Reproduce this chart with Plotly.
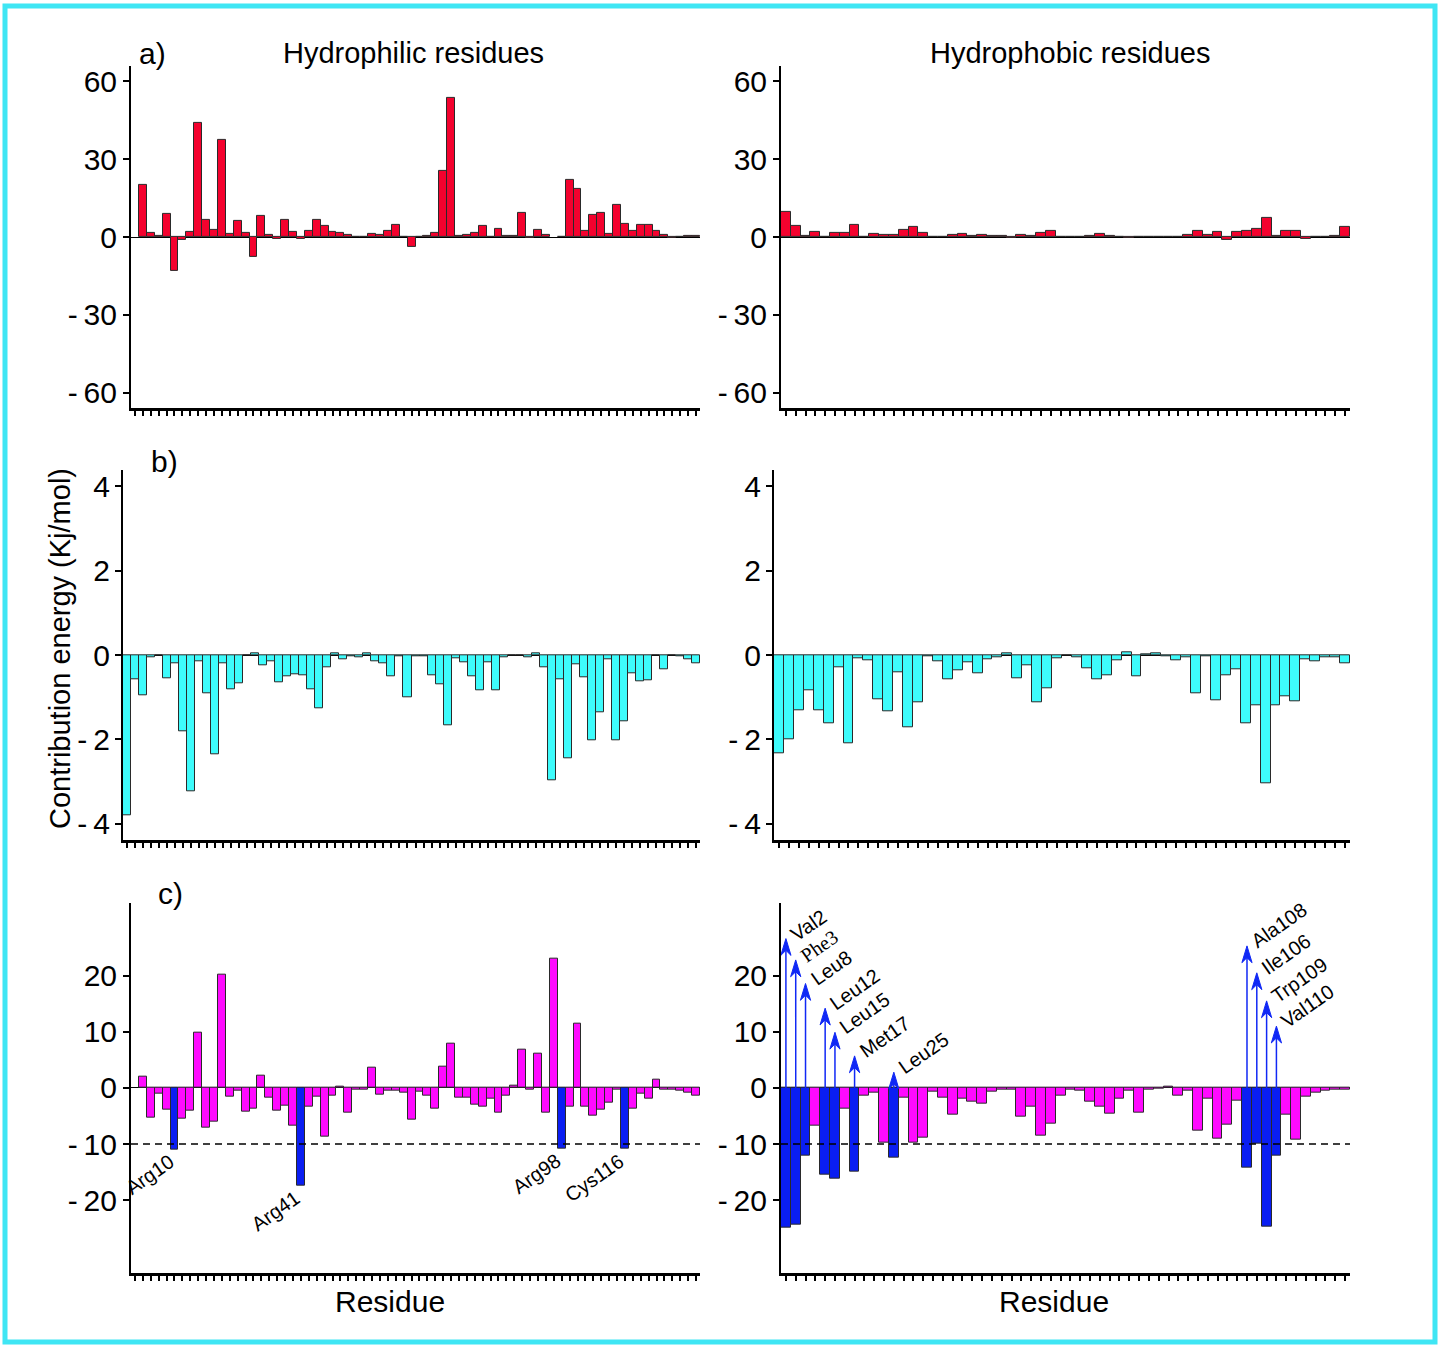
import plotly.graph_objects as go

# ---------------- data ----------------
# Panel a: total contribution, hydrophilic residues (position 0 and 53 have no value)
philic_total = [None, 20.2, 1.7, 0.3, 9.0, -13.2, -0.9, 2.0, 44.0, 6.8, 2.8,
                37.3, 1.4, 6.4, 1.5, -7.5, 8.1, 1.0, -0.6, 6.6, 1.9,
                -0.5, 2.3, 6.6, 4.4, 2.2, 1.8, 1.0, 0.1, 0.2, 1.3,
                0.8, 2.3, 4.6, 0.2, -3.6, 0.1, 0.6, 1.8, 25.6, 53.6,
                0.3, 0.8, 1.8, 4.5, 0.1, 3.1, 0.3, 0.3, 9.3, -0.4,
                2.7, 0.9, None, 0.2, 22.1, 18.6, 2.6, 8.7, 9.3, 1.2,
                12.6, 5.0, 2.6, 4.8, 4.8, 2.6, 1.0, -0.2, 0.1, 0.5, 0.5]
# Panel a: total contribution, hydrophobic residues
phobic_total = [9.6, 4.4, 0.6, 2.2, 0.1, 1.5, 1.5, 4.6, 0.1, 1.2,
                0.8, 1.0, 2.7, 3.9, 1.8, 0.1, 0.1, 0.8, 1.3, 0.5,
                0.8, 0.5, 0.5, -0.3, 1.0, 0.5, 1.7, 2.6, 0.1, 0.1,
                0.2, 0.3, 1.4, 0.3, 0.1, -0.1, 0.1, 0.1, 0.1, 0.2,
                0.2, 0.7, 2.4, 0.7, 1.9, -1.0, 2.0, 2.3, 3.0, 7.6,
                0.6, 2.4, 2.4, -0.5, 0.2, 0.2, 0.5, 4.0]
# Panel b
philic_b = [-3.81, -0.57, -0.95, -0.05, 0.0, -0.55, -0.2, -1.81, -3.22, -0.15,
            -0.9, -2.36, -0.2, -0.82, -0.68, -0.01, 0.04, -0.24, -0.14, -0.64,
            -0.51, -0.45, -0.47, -0.82, -1.27, -0.28, 0.03, -0.09, -0.02, -0.06,
            0.03, -0.15, -0.2, -0.5, -0.02, -1.0, -0.02, -0.02, -0.49, -0.69,
            -1.67, -0.08, -0.17, -0.5, -0.84, -0.18, -0.84, -0.06, -0.01, 0.0,
            -0.05, 0.05, -0.29, -2.97, -0.57, -2.46, -0.21, -0.53, -2.02, -1.36,
            -0.11, -2.02, -1.57, -0.43, -0.63, -0.6, -0.01, -0.34, -0.01, -0.04,
            -0.11, -0.19]
phobic_b = [-2.32, -2.0, -1.3, -0.83, -1.31, -1.61, -0.28, -2.1, -0.08, -0.12,
            -1.06, -1.33, -0.4, -1.71, -1.13, -0.02, -0.16, -0.57, -0.37, -0.17,
            -0.44, -0.09, -0.05, 0.03, -0.54, -0.24, -1.12, -0.79, -0.08, -0.01,
            -0.06, -0.31, -0.57, -0.49, -0.13, 0.06, -0.5, 0.02, 0.04, -0.03,
            -0.13, -0.06, -0.91, -0.02, -1.08, -0.49, -0.34, -1.62, -1.2, -3.03,
            -1.2, -0.99, -1.09, -0.11, -0.14, -0.06, -0.06, -0.2]
# Panel c
philic_c = [None, 2.0, -5.3, -0.95, -3.8, -11.0, -5.4, -4.0, 9.8, -7.1, -6.0,
            20.2, -1.5, -0.5, -4.3, -3.7, 2.1, -1.7, -4.1, -3.2, -6.7,
            -17.5, -3.4, -1.5, -8.6, -1.4, 0.2, -4.5, -0.35, -0.4, 3.6,
            -1.2, -0.5, -0.5, -0.8, -5.7, -0.7, -1.3, -3.7, 3.8, 7.9,
            -1.8, -1.7, -3.0, -3.3, -1.9, -4.5, -1.4, 0.4, 6.9, -0.4,
            6.1, -4.4, 23.0, -10.9, -3.4, 11.4, -3.4, -4.9, -3.8, -2.6,
            -0.4, -10.9, -3.7, -1.1, -1.9, 1.4, -0.4, -0.4, -0.5, -0.8, -1.4]
phobic_c = [-24.9, -24.4, -12.1, -6.8, -15.4, -16.1, -3.7, -15.0, -1.3, -0.8,
            -9.8, -12.5, -1.7, -9.8, -8.8, -0.65, -1.7, -4.7, -1.9, -2.4,
            -2.8, -0.6, -0.25, -0.35, -5.2, -3.4, -8.5, -6.3, -1.4, -0.3,
            -0.5, -2.4, -3.3, -4.6, -1.9, -0.5, -4.4, -0.4, -0.2, 0.3,
            -1.4, -0.5, -7.6, -2.0, -9.1, -6.5, -2.2, -14.2, -10.0, -24.8,
            -12.1, -4.7, -9.3, -1.5, -0.9, -0.5, -0.4, -0.25]

# Key residues (position in the bar series -> name)
philic_key_pos = [5, 21, 54, 62]
philic_key_name = ["Arg10", "Arg41", "Arg98", "Cys116"]
phobic_key_pos = [1, 2, 3, 5, 6, 8, 12, 48, 49, 50, 51]
phobic_key_name = ["Val2", "Phe3", "Leu8", "Leu12", "Leu15", "Met17", "Leu25",
                   "Ala108", "Ile106", "Trp109", "Val110"]
phobic_arrow_tip = [26.6, 22.8, 18.6, 14.2, 9.9, 5.7, 2.8, 25.3, 20.5, 15.5, 11.0]
cutoff = -10

# ---------------- styling ----------------
W, H = 1440, 1348
RED, CYAN, MAGENTA, BLUE = "#F4022E", "#3EFBFB", "#FF0AFF", "#0A1EF2"
ARROW_BLUE = "#1028F5"
EDGE = "#2a2a2a"
TICK_FONT = dict(family="Liberation Sans, Arial, sans-serif", size=30, color="black")
TEXT_FONT = "Liberation Sans, Arial, sans-serif"
NEG = "-\u2009"   # minus sign followed by a thin space in tick labels


def px_x(p):
    return p / W


def px_y(p):
    return 1 - p / H


fig = go.Figure()


def add_bars(values, positions, axis, colors):
    fig.add_trace(go.Bar(
        x=positions, y=values, width=[1] * len(values),
        marker=dict(color=colors, line=dict(color=EDGE, width=1)),
        xaxis="x" + axis, yaxis="y" + axis, showlegend=False, hoverinfo="x+y",
    ))


philic_pos_a = list(range(len(philic_total)))
phobic_pos = list(range(1, len(phobic_total) + 1))
philic_pos_b = list(range(1, len(philic_b) + 1))
philic_pos_c = list(range(len(philic_c)))

add_bars(philic_total, philic_pos_a, "", RED)
add_bars(phobic_total, phobic_pos, "2", RED)
add_bars(philic_b, philic_pos_b, "3", CYAN)
add_bars(phobic_b, phobic_pos, "4", CYAN)
add_bars(philic_c, philic_pos_c, "5",
         [BLUE if i in philic_key_pos else MAGENTA for i in philic_pos_c])
add_bars(phobic_c, phobic_pos, "6",
         [BLUE if i in phobic_key_pos else MAGENTA for i in phobic_pos])

row_dom = {
    "a": [px_y(408), px_y(65)],
    "b": [px_y(840), px_y(470)],
    "c": [px_y(1274), px_y(903)],
}


def x_axis(dom, rng, ticks, anchor):
    return dict(domain=dom, range=rng, anchor=anchor, showline=True, linecolor="black",
                linewidth=2.5, ticks="outside", ticklen=5, tickwidth=1.6, tickcolor="black",
                tickvals=ticks, showticklabels=False, showgrid=False, zeroline=False,
                fixedrange=True)


def y_axis(dom, rng, vals, anchor, standoff):
    texts = [(NEG + str(abs(v))) if v < 0 else str(v) for v in vals]
    return dict(domain=dom, range=rng, anchor=anchor, showline=True, linecolor="black",
                linewidth=2, ticks="outside", ticklen=6, tickwidth=1.6, tickcolor="black",
                tickvals=vals, ticktext=texts, tickfont=TICK_FONT, showgrid=False,
                zeroline=True, zerolinecolor="black", zerolinewidth=1.2,
                ticklabelstandoff=standoff, fixedrange=True)


left_a = [px_x(131), px_x(700)]
right_a = [px_x(781), px_x(1350)]
left_b = [px_x(123), px_x(700)]
right_b = [px_x(774), px_x(1350)]

ya_vals = [-60, -30, 0, 30, 60]
yb_vals = [-4, -2, 0, 2, 4]
yc_vals = [-20, -10, 0, 10, 20]

fig.update_layout(
    xaxis=x_axis(left_a, [-0.5, 71.5], philic_pos_a, "y"),
    yaxis=y_axis(row_dom["a"], [-66, 66], ya_vals, "x", 0),
    xaxis2=x_axis(right_a, [0.5, 58.5], phobic_pos, "y2"),
    yaxis2=y_axis(row_dom["a"], [-66, 66], ya_vals, "x2", 0),
    xaxis3=x_axis(left_b, [0.5, 72.5], philic_pos_b, "y3"),
    yaxis3=y_axis(row_dom["b"], [-4.38, 4.38], yb_vals, "x3", -1),
    xaxis4=x_axis(right_b, [0.5, 58.5], phobic_pos, "y4"),
    yaxis4=y_axis(row_dom["b"], [-4.38, 4.38], yb_vals, "x4", -1),
    xaxis5=x_axis(left_a, [-0.5, 71.5], philic_pos_c, "y5"),
    yaxis5=y_axis(row_dom["c"], [-33, 33], yc_vals, "x5", 0),
    xaxis6=x_axis(right_a, [0.5, 58.5], phobic_pos, "y6"),
    yaxis6=y_axis(row_dom["c"], [-33, 33], yc_vals, "x6", 0),
)

annotations = []

# Free text: titles, panel letters, axis titles
def paper_text(txt, cx, cy, size=30, angle=0):
    annotations.append(dict(text=txt, x=px_x(cx), y=px_y(cy), xref="paper", yref="paper",
                            showarrow=False, xanchor="center", yanchor="middle",
                            textangle=angle, font=dict(family=TEXT_FONT, size=size, color="black")))


paper_text("Hydrophilic residues", 413, 52, size=29)
paper_text("Hydrophobic residues", 1070, 52, size=29)
paper_text("a)", 152, 53)
paper_text("b)", 164, 461)
paper_text("c)", 170, 894)
paper_text("Contribution energy (Kj/mol)", 60, 649, size=29, angle=-90)
paper_text("Residue", 390, 1302)
paper_text("Residue", 1054, 1302)

LABEL_SIZE = 20

# Labels under the key hydrophilic residues
for pos, name in zip(philic_key_pos, philic_key_name):
    annotations.append(dict(text=name, x=pos + 0.3, y=philic_c[pos], xref="x5", yref="y5",
                            showarrow=False, xanchor="right", yanchor="top",
                            xshift=3, yshift=2, textangle=-35,
                            font=dict(family=TEXT_FONT, size=LABEL_SIZE, color="black")))

shapes = []

# Arrows (stem + notched head) and labels over the key hydrophobic residues
HEAD_LEN, HEAD_NOTCH, HEAD_HALF = 3.0, 2.1, 0.52   # in y-units / y-units / x-units
for pos, name, tip in zip(phobic_key_pos, phobic_key_name, phobic_arrow_tip):
    shapes.append(dict(type="line", xref="x6", yref="y6", x0=pos, x1=pos, y0=0,
                       y1=tip - HEAD_NOTCH, line=dict(color=ARROW_BLUE, width=1.5),
                       layer="above"))
    head = (f"M{pos},{tip} L{pos - HEAD_HALF},{tip - HEAD_LEN} "
            f"L{pos},{tip - HEAD_NOTCH} L{pos + HEAD_HALF},{tip - HEAD_LEN} Z")
    shapes.append(dict(type="path", xref="x6", yref="y6", path=head,
                       fillcolor=ARROW_BLUE, line=dict(color=ARROW_BLUE, width=1),
                       layer="above"))
    fam = "Liberation Serif, Times New Roman, serif" if name == "Phe3" else TEXT_FONT
    annotations.append(dict(text=name, x=pos, y=tip, xref="x6", yref="y6",
                            showarrow=False, xanchor="left", yanchor="bottom",
                            xshift=-2, yshift=-9, textangle=-35,
                            font=dict(family=fam, size=LABEL_SIZE, color="black")))

shapes += [
    dict(type="line", xref="x5 domain", yref="y5", x0=0, x1=1, y0=cutoff, y1=cutoff,
         line=dict(color="black", width=1.5, dash="7px,5px"), layer="above"),
    dict(type="line", xref="x6 domain", yref="y6", x0=0, x1=1, y0=cutoff, y1=cutoff,
         line=dict(color="black", width=1.5, dash="7px,5px"), layer="above"),
    dict(type="rect", xref="paper", yref="paper", x0=px_x(5), x1=px_x(1435),
         y0=px_y(1343), y1=px_y(5), line=dict(color="#3FE6F4", width=5)),
]

fig.update_layout(
    width=W, height=H, margin=dict(l=0, r=0, t=0, b=0),
    paper_bgcolor="white", plot_bgcolor="white",
    bargap=0, barmode="overlay", showlegend=False,
    annotations=annotations, shapes=shapes,
    font=dict(family=TEXT_FONT, color="black"),
)

fig.write_html("out.html")
